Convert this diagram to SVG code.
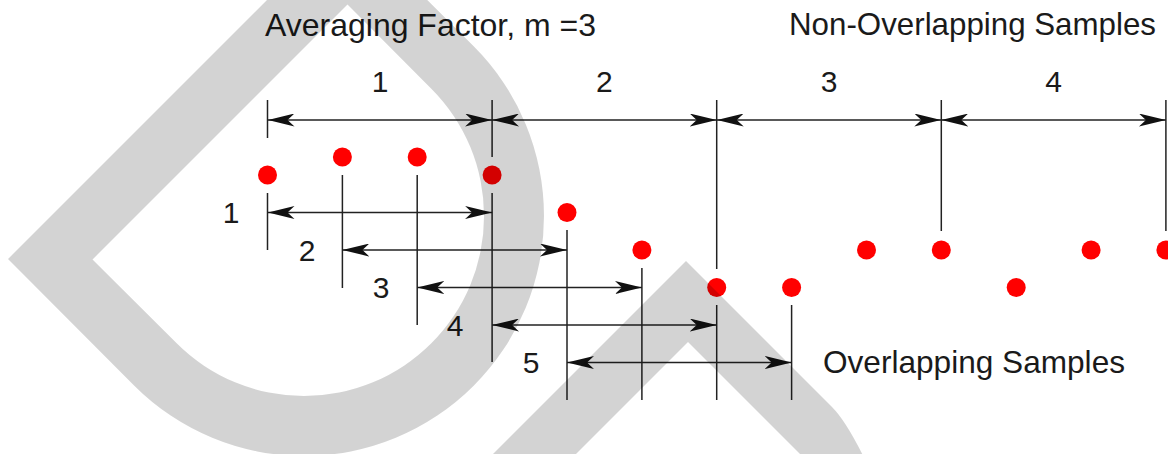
<svg xmlns="http://www.w3.org/2000/svg" width="1168" height="454" viewBox="0 0 1168 454">
  <style>
    .t { font-family: "Liberation Sans", Arial, sans-serif; font-size: 31.5px; fill: #1a1a1a; }
    .n { font-family: "Liberation Sans", Arial, sans-serif; font-size: 30px; fill: #1a1a1a; text-anchor: middle; }
    .tick { stroke: #222; stroke-width: 1.5; fill: none; }
    .dim { stroke: #222; stroke-width: 1.6; fill: none; marker-start: url(#ah); marker-end: url(#ah); }
    .dot { fill: #ff0000; }
    .wm { fill: #000; fill-opacity: 0.1725; fill-rule: evenodd; }
  </style>
  <defs>
    <marker id="ah" viewBox="0 0 27 13" refX="27" refY="6.5" markerWidth="27" markerHeight="13" markerUnits="userSpaceOnUse" orient="auto-start-reverse">
      <path d="M27,6.5 L0,0 L7,6.5 L0,13 Z" fill="#111"/>
    </marker>
  </defs>
  <rect width="1168" height="454" fill="#fff"/>

  <g id="titles">
    <text class="t" x="265" y="36" textLength="331" lengthAdjust="spacingAndGlyphs">Averaging Factor, m =3</text>
    <text class="t" x="789" y="35" textLength="367" lengthAdjust="spacingAndGlyphs">Non-Overlapping Samples</text>
    <text class="t" x="823" y="373" textLength="302" lengthAdjust="spacingAndGlyphs">Overlapping Samples</text>
  </g>

  <g id="labels">
    <text class="n" x="380" y="92">1</text>
    <text class="n" x="604.4" y="92">2</text>
    <text class="n" x="829" y="92">3</text>
    <text class="n" x="1053.6" y="92">4</text>
    <text class="n" x="231" y="223">1</text>
    <text class="n" x="307" y="261">2</text>
    <text class="n" x="381" y="297.5">3</text>
    <text class="n" x="455" y="336">4</text>
    <text class="n" x="531" y="372.5">5</text>
  </g>

  <g id="samples">
    <g id="s1"><circle class="dot" cx="267.5" cy="175" r="9.5"/></g>
    <g id="s2"><circle class="dot" cx="342.4" cy="157" r="9.5"/></g>
    <g id="s3"><circle class="dot" cx="417.2" cy="157" r="9.5"/></g>
    <g id="s4"><circle class="dot" cx="492.1" cy="175" r="9.5"/></g>
    <g id="s5"><circle class="dot" cx="567.0" cy="212.5" r="9.5"/></g>
    <g id="s6"><circle class="dot" cx="641.9" cy="250" r="9.5"/></g>
    <g id="s7"><circle class="dot" cx="716.7" cy="287.5" r="9.5"/></g>
    <g id="s8"><circle class="dot" cx="791.6" cy="287.5" r="9.5"/></g>
    <g id="s9"><circle class="dot" cx="866.5" cy="250" r="9.5"/></g>
    <g id="s10"><circle class="dot" cx="941.3" cy="250" r="9.5"/></g>
    <g id="s11"><circle class="dot" cx="1016.2" cy="287.5" r="9.5"/></g>
    <g id="s12"><circle class="dot" cx="1091.1" cy="250" r="9.5"/></g>
    <g id="s13"><circle class="dot" cx="1165.9" cy="250" r="9.5"/></g>
  </g>

  <g id="connectors">
    <g id="ticks">
      <line class="tick" x1="267.5" y1="100" x2="267.5" y2="138"/>
      <line class="tick" x1="492.1" y1="100" x2="492.1" y2="157"/>
      <line class="tick" x1="716.7" y1="100" x2="716.7" y2="269"/>
      <line class="tick" x1="941.3" y1="100" x2="941.3" y2="231"/>
      <line class="tick" x1="1165.9" y1="100" x2="1165.9" y2="231"/>
      <line class="tick" x1="267.5" y1="193" x2="267.5" y2="250"/>
      <line class="tick" x1="342.4" y1="175" x2="342.4" y2="288"/>
      <line class="tick" x1="417.2" y1="175" x2="417.2" y2="325"/>
      <line class="tick" x1="492.1" y1="193" x2="492.1" y2="362"/>
      <line class="tick" x1="567.0" y1="230" x2="567.0" y2="400"/>
      <line class="tick" x1="641.9" y1="268" x2="641.9" y2="400"/>
      <line class="tick" x1="716.7" y1="305" x2="716.7" y2="400"/>
      <line class="tick" x1="791.6" y1="305" x2="791.6" y2="400"/>
    </g>
    <g id="non-overlapping">
      <line class="dim" x1="267.5" y1="120" x2="492.1" y2="120"/>
      <line class="dim" x1="492.1" y1="120" x2="716.7" y2="120"/>
      <line class="dim" x1="716.7" y1="120" x2="941.3" y2="120"/>
      <line class="dim" x1="941.3" y1="120" x2="1165.9" y2="120"/>
    </g>
    <g id="overlapping">
      <line class="dim" x1="267.5" y1="212.5" x2="492.1" y2="212.5"/>
      <line class="dim" x1="342.4" y1="250" x2="567.0" y2="250"/>
      <line class="dim" x1="417.2" y1="287.5" x2="641.9" y2="287.5"/>
      <line class="dim" x1="492.1" y1="325" x2="716.7" y2="325"/>
      <line class="dim" x1="567.0" y1="362.5" x2="791.6" y2="362.5"/>
    </g>
  </g>

  <g id="watermark">
    <path class="wm" d="M8,259 L347,-80 L473.7,46.3 A240,240 0 0 1 473.7,385.7 A240,240 0 0 1 134.3,385.7 Z M92.5,259.5 L347.5,4.5 L431.3,88.7 A180,180 0 0 1 431.3,343.3 A180,180 0 0 1 176.7,343.3 Z"/>
    <path class="wm" d="M477,470 L686,261 L832,407 Q848,423 870,470 L816,470 L688,342 L560,470 Z"/>
  </g>
</svg>
